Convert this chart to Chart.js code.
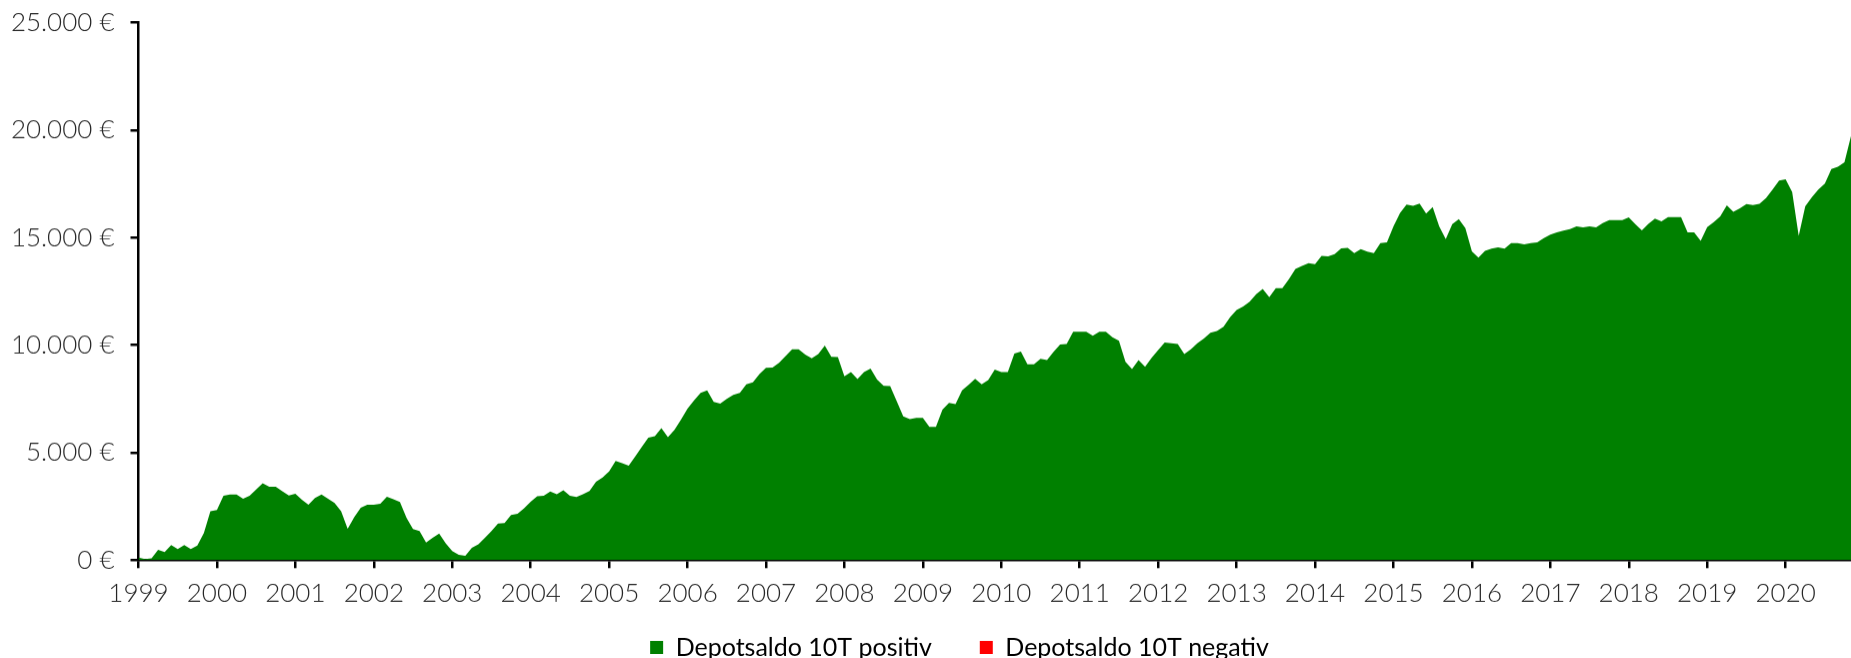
<!DOCTYPE html>
<html lang="de">
<head>
<meta charset="utf-8">
<title>Depotsaldo 10T</title>
<script src="https://cdn.jsdelivr.net/npm/chart.js@4.4.1/dist/chart.umd.min.js"></script>
<style>
  html, body { margin: 0; padding: 0; background: #fff; overflow: hidden; }
  #wrap { position: relative; width: 1851px; height: 691.5px; }
</style>
</head>
<body>
<div id="wrap"><canvas id="depotChart"></canvas></div>
<script>
// ---------------- Data ----------------
const years = [1999, 2000, 2001, 2002, 2003, 2004, 2005, 2006, 2007, 2008, 2009,
  2010, 2011, 2012, 2013, 2014, 2015, 2016, 2017, 2018, 2019, 2020];

// monthly balance, Jan 1999 .. Nov 2020 (EUR)
const depotPositiv = [
  120, 50, 80, 480, 370, 700, 510, 700, 510, 680, 1260, 2270,
  2330, 2990, 3050, 3050, 2850, 2990, 3280, 3580, 3410, 3410, 3200, 3000,
  3090, 2810, 2570, 2890, 3050, 2860, 2660, 2270, 1460, 1990, 2430, 2570,
  2570, 2620, 2950, 2830, 2700, 1970, 1450, 1350, 820, 1040, 1240, 780,
  420, 250, 200, 575, 730, 1040, 1350, 1700, 1730, 2100, 2160, 2410,
  2720, 2970, 2990, 3190, 3060, 3250, 2990, 2940, 3060, 3220, 3650, 3840,
  4120, 4610, 4510, 4390, 4820, 5260, 5690, 5770, 6140, 5720, 6060, 6530,
  7040, 7430, 7780, 7900, 7360, 7280, 7500, 7680, 7780, 8180, 8270, 8650,
  8940, 8960, 9170, 9490, 9800, 9800, 9560, 9390, 9580, 9980, 9450, 9440,
  8550, 8740, 8420, 8750, 8910, 8400, 8100, 8090, 7390, 6690, 6560, 6620,
  6610, 6200, 6200, 7000, 7310, 7260, 7900, 8150, 8430, 8180, 8370, 8860,
  8750, 8750, 9610, 9700, 9110, 9110, 9360, 9300, 9690, 10030, 10050, 10620,
  10620, 10620, 10430, 10620, 10620, 10360, 10200, 9220, 8880, 9300, 8990, 9410,
  9770, 10120, 10080, 10050, 9580, 9800, 10080, 10310, 10570, 10650, 10850, 11290,
  11630, 11790, 12020, 12360, 12610, 12220, 12640, 12640, 13060, 13540, 13680, 13810,
  13760, 14150, 14120, 14230, 14500, 14520, 14270, 14460, 14340, 14270, 14740, 14770,
  15520, 16140, 16530, 16480, 16580, 16110, 16420, 15520, 14930, 15630, 15860, 15440,
  14350, 14070, 14380, 14480, 14540, 14480, 14740, 14740, 14680, 14740, 14770, 14970,
  15130, 15240, 15320, 15390, 15520, 15470, 15520, 15470, 15670, 15810, 15810, 15810,
  15940, 15630, 15330, 15640, 15880, 15750, 15950, 15950, 15950, 15240, 15240, 14850,
  15490, 15720, 15990, 16500, 16190, 16360, 16560, 16510, 16570, 16840, 17230, 17650,
  17710, 17120, 15080, 16450, 16870, 17230, 17510, 18190, 18290, 18500, 19720
];

// no negative balance shows up in the picture
const depotNegativ = [];

const yTicks = [0, 5000, 10000, 15000, 20000, 25000];

// ---------------- Helpers ----------------
function buildMonthLabels() {
  const out = [];
  years.forEach(y => {
    for (let m = 1; m <= 12; m++) out.push(y + "-" + String(m).padStart(2, "0"));
  });
  return out.slice(0, depotPositiv.length);
}

function formatEuro(v) {
  return v.toLocaleString("de-DE") + " €";
}

// the original legend sits right of centre and close under the year labels
const legendShift = {
  id: "legendShift",
  afterLayout(chart) {
    const lg = chart.legend;
    if (!lg) return;
    lg.left += 34;
    lg.right += 34;
    lg.top -= 22.5;
    lg.bottom -= 22.5;
  }
};

// ---------------- Chart ----------------
const labels = buildMonthLabels();
const tickFont = { family: "Lato", size: 26, weight: "300" };

new Chart(document.getElementById("depotChart"), {
  type: "line",
  data: {
    labels: labels,
    datasets: [
      {
        label: "Depotsaldo 10T positiv",
        data: depotPositiv,
        backgroundColor: "#008000",
        borderColor: "#008000",
        borderWidth: 0,
        fill: "origin",
        pointRadius: 0,
        tension: 0
      },
      {
        label: "Depotsaldo 10T negativ",
        data: depotNegativ,
        backgroundColor: "#ff0000",
        borderColor: "#ff0000",
        borderWidth: 0,
        fill: "origin",
        pointRadius: 0
      }
    ]
  },
  options: {
    responsive: true,
    maintainAspectRatio: false,
    animation: false,
    layout: { padding: 0 },
    scales: {
      x: {
        type: "category",
        offset: false,
        afterFit: s => { s.height = 49.2; s.paddingLeft = 0; s.paddingRight = 0; },
        grid: { display: true, drawOnChartArea: false, drawTicks: true, tickLength: 8, color: "#000", lineWidth: 2.5 },
        border: { display: true, color: "#000", width: 2.5 },
        ticks: {
          autoSkip: false,
          maxRotation: 0,
          padding: 10,
          color: "#262626",
          font: tickFont,
          callback: function (val, idx) {
            const l = labels[idx];
            return l.endsWith("-01") ? l.slice(0, 4) : null;
          }
        }
      },
      y: {
        min: 0,
        max: 25000,
        afterFit: s => { s.width = 138.5; s.paddingTop = 22.4; s.paddingBottom = 0; },
        afterBuildTicks: s => { s.ticks = yTicks.map(v => ({ value: v })); },
        grid: { display: true, drawOnChartArea: false, drawTicks: true, tickLength: 8, color: "#000", lineWidth: 2.5 },
        border: { display: true, color: "#000", width: 2.5 },
        ticks: {
          padding: 16,
          color: "#262626",
          font: tickFont,
          callback: v => formatEuro(v)
        }
      }
    },
    plugins: {
      legend: {
        position: "bottom",
        labels: {
          boxWidth: 13,
          boxHeight: 13,
          padding: 48,
          color: "#000",
          font: { family: "Lato", size: 25 }
        }
      },
      tooltip: { enabled: false }
    }
  },
  plugins: [legendShift]
});
</script>
</body>
</html>
